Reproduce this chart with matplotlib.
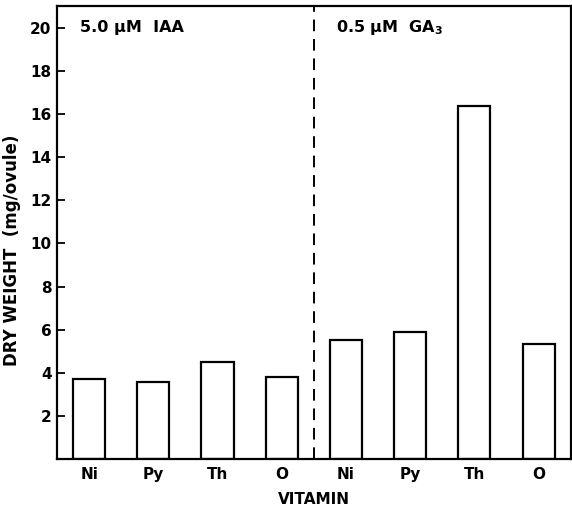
# Dry weight per ovule by vitamin, with IAA and GA3 groups
import numpy as np
import matplotlib.pyplot as plt

plt.rcParams['font.family'] = ['DejaVu Sans']

vitamins = ['Ni', 'Py', 'Th', 'O', 'Ni', 'Py', 'Th', 'O']
dry_weight = [3.7, 3.55, 4.5, 3.8, 5.5, 5.9, 16.35, 5.35]  # mg/ovule
group_labels = ['5.0 μM  IAA', '0.5 μM  GA$_\\mathbf{3}$']
y_ticks = [2, 4, 6, 8, 10, 12, 14, 16, 18, 20]

fig = plt.figure(figsize=(5.72, 5.07), dpi=100)
ax = fig.add_axes([0.0997, 0.0947, 0.898, 0.893])

x = np.arange(len(vitamins))
ax.bar(x, dry_weight, width=0.5, color='white', edgecolor='black', linewidth=1.6)

# divider between the two hormone treatments
ax.axvline(3.5, color='black', linestyle=(0, (6, 4)), linewidth=1.4)

ax.text(-0.14, 20, group_labels[0], fontsize=11.5, fontweight='bold', va='center')
ax.text(3.84, 20, group_labels[1], fontsize=11.5, fontweight='bold', va='center')

ax.set_xlim(-0.5, 7.5)
ax.set_ylim(0, 21)
ax.set_xticks(x)
ax.set_xticklabels(vitamins, fontsize=11, fontweight='bold')
ax.set_yticks(y_ticks)
ax.set_yticklabels([str(t) for t in y_ticks], fontsize=11, fontweight='bold')
ax.tick_params(axis='x', length=0, pad=6)
ax.tick_params(axis='y', direction='in', length=6, width=1.3, pad=4)

for s in ax.spines.values():
    s.set_linewidth(1.6)

ax.set_xlabel('VITAMIN', fontsize=11, fontweight='bold', labelpad=7)
ax.set_ylabel('DRY WEIGHT  (mg/ovule)', fontsize=12, fontweight='bold')
ax.yaxis.set_label_coords(-0.07, 0.46)

fig.savefig('out.png', dpi=100)
